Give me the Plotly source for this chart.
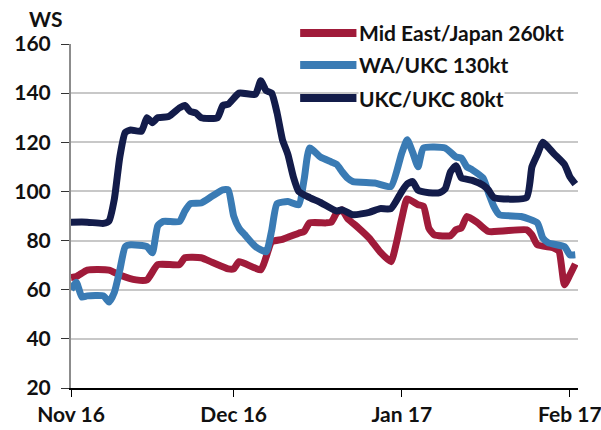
"""
Tanker spot rates (WS) - three routes, Nov 2016 to Feb 2017.
"""

import plotly.graph_objects as go

# ---------------------------------------------------------------------------
# Data
# ---------------------------------------------------------------------------

MEJ_DATES = [
    "2016-11-01", "2016-11-02", "2016-11-04", "2016-11-08", "2016-11-10",
    "2016-11-13", "2016-11-15", "2016-11-17", "2016-11-21", "2016-11-22",
    "2016-11-25", "2016-11-27", "2016-11-30", "2016-12-01", "2016-12-02",
    "2016-12-06", "2016-12-07", "2016-12-08", "2016-12-10", "2016-12-13",
    "2016-12-14", "2016-12-15", "2016-12-18", "2016-12-19", "2016-12-20",
    "2016-12-21", "2016-12-22", "2016-12-24", "2016-12-26", "2016-12-28",
    "2016-12-30", "2016-12-31", "2017-01-01", "2017-01-02", "2017-01-04",
    "2017-01-05", "2017-01-06", "2017-01-07", "2017-01-10", "2017-01-11",
    "2017-01-12", "2017-01-13", "2017-01-15", "2017-01-17", "2017-01-24",
    "2017-01-25", "2017-01-26", "2017-01-29", "2017-01-30", "2017-01-31",
    "2017-02-01", "2017-02-02",
]
MEJ_VALUES = [
    65, 65.4, 68, 68, 66,
    64, 64, 70.2, 70.2, 73,
    73, 71.2, 68.5, 68.5, 71.4,
    68.1, 73.4, 79.5, 80.5, 83,
    83.7, 87.2, 87.2, 87.5, 91.3,
    92.5, 89, 85.2, 81, 75.4,
    71.4, 79, 89, 97, 94.6,
    94, 85, 82.3, 82, 84.4,
    85.2, 89.8, 87.2, 83.7, 84.4,
    82.3, 78.3, 77, 75.6, 62,
    66, 70.5,
]

WA_DATES = [
    "2016-11-01", "2016-11-02", "2016-11-03", "2016-11-04", "2016-11-07",
    "2016-11-08", "2016-11-09", "2016-11-10", "2016-11-11", "2016-11-12",
    "2016-11-15", "2016-11-16", "2016-11-17", "2016-11-18", "2016-11-21",
    "2016-11-22", "2016-11-23", "2016-11-25", "2016-11-27", "2016-11-29",
    "2016-11-30", "2016-12-01", "2016-12-02", "2016-12-03", "2016-12-05",
    "2016-12-07", "2016-12-08", "2016-12-09", "2016-12-11", "2016-12-13",
    "2016-12-14", "2016-12-15", "2016-12-17", "2016-12-19", "2016-12-20",
    "2016-12-21", "2016-12-22", "2016-12-23", "2016-12-27", "2016-12-30",
    "2017-01-01", "2017-01-02", "2017-01-03", "2017-01-04", "2017-01-05",
    "2017-01-09", "2017-01-11", "2017-01-12", "2017-01-13", "2017-01-14",
    "2017-01-16", "2017-01-17", "2017-01-18", "2017-01-19", "2017-01-23",
    "2017-01-26", "2017-01-27", "2017-01-28", "2017-01-31", "2017-02-01",
    "2017-02-02",
]
WA_VALUES = [
    60, 63, 57, 57.5, 57.5,
    55, 59, 68, 77.5, 78.3,
    77.6, 75, 86, 87.8, 87.8,
    92, 95, 95.3, 98, 100.6,
    100.6, 90, 85, 82.5, 77.6,
    75.4, 84, 95, 95.9, 94.6,
    105, 117.7, 114, 112, 111,
    108, 105.4, 104, 103.4, 102,
    115.6, 121, 116, 110, 117.7,
    117.7, 114, 113.6, 110, 108.8,
    105.4, 99.4, 93.8, 90.5, 89.8,
    87.2, 81.1, 79.1, 77.5, 74.2,
    74.2,
]

UKC_DATES = [
    "2016-11-01", "2016-11-04", "2016-11-07", "2016-11-08", "2016-11-09",
    "2016-11-10", "2016-11-11", "2016-11-12", "2016-11-14", "2016-11-15",
    "2016-11-16", "2016-11-17", "2016-11-19", "2016-11-21", "2016-11-22",
    "2016-11-23", "2016-11-24", "2016-11-25", "2016-11-28", "2016-11-29",
    "2016-11-30", "2016-12-02", "2016-12-05", "2016-12-06", "2016-12-07",
    "2016-12-08", "2016-12-09", "2016-12-10", "2016-12-11", "2016-12-12",
    "2016-12-13", "2016-12-15", "2016-12-17", "2016-12-20", "2016-12-21",
    "2016-12-23", "2016-12-26", "2016-12-28", "2016-12-30", "2017-01-01",
    "2017-01-02", "2017-01-03", "2017-01-04", "2017-01-06", "2017-01-08",
    "2017-01-09", "2017-01-10", "2017-01-11", "2017-01-12", "2017-01-14",
    "2017-01-16", "2017-01-17", "2017-01-18", "2017-01-24", "2017-01-25",
    "2017-01-26", "2017-01-27", "2017-01-28", "2017-01-29", "2017-01-31",
    "2017-02-01", "2017-02-02",
]
UKC_VALUES = [
    87.5, 87.5, 87, 88, 97,
    114, 124, 125, 124.5, 130,
    128, 130, 130.5, 134, 135,
    132.5, 132, 130, 130, 135,
    135.5, 140, 139.5, 145, 141,
    140, 132, 121, 115, 106,
    100, 97.5, 95.5, 92, 92.5,
    90.5, 91.5, 93, 93, 100,
    103, 104, 100.5, 99.5, 99.5,
    101, 108, 110.5, 105.5, 104.5,
    102.5, 100.5, 97.5, 97.5, 110,
    115, 120, 118, 115.5, 111,
    106, 103,
]

SERIES = [
    ("Mid East/Japan 260kt", MEJ_DATES, MEJ_VALUES, "#A01B3A"),
    ("WA/UKC 130kt", WA_DATES, WA_VALUES, "#3A7BB4"),
    ("UKC/UKC 80kt", UKC_DATES, UKC_VALUES, "#131C4A"),
]

FONT = "Lato"
FONT_SIZE = 21
TEXT_COLOR = "#111111"

fig = go.Figure()

for name, dates, values, color in SERIES:
    fig.add_trace(
        go.Scatter(
            x=dates,
            y=values,
            name=name,
            mode="lines",
            line=dict(color=color, width=7, shape="spline", smoothing=0.5),
            showlegend=False,
        )
    )

# Hand-drawn legend so the key lines can be long and thick like the original
legend_rows = [1.032, 0.939, 0.843]
for (name, _, _, color), ypos in zip(SERIES, legend_rows):
    fig.add_shape(
        type="line", xref="paper", yref="paper",
        x0=0.452, x1=0.563, y0=ypos, y1=ypos,
        line=dict(color=color, width=8),
    )
    fig.add_annotation(
        xref="paper", yref="paper", x=0.566, y=ypos,
        text=name, showarrow=False, xanchor="left", yanchor="middle",
        bgcolor="white", borderpad=0,
        font=dict(family=FONT, size=FONT_SIZE, color=TEXT_COLOR, weight="bold"),
    )

fig.add_annotation(
    xref="paper", yref="paper", x=-0.087, y=1.0,
    yshift=26,
    text="WS", showarrow=False, xanchor="left", yanchor="middle",
    font=dict(family=FONT, size=FONT_SIZE, color=TEXT_COLOR, weight="bold"),
)

fig.update_layout(
    width=601,
    height=430,
    margin=dict(l=71, r=23, t=44, b=42, autoexpand=False),
    paper_bgcolor="white",
    plot_bgcolor="white",
    font=dict(family=FONT, size=FONT_SIZE, color=TEXT_COLOR, weight="bold"),
)

fig.update_xaxes(
    type="date",
    range=["2016-11-01", "2017-02-02 12:00"],
    tick0="2016-11-01",
    dtick="M1",
    tickformat="%b %y",
    ticks="outside",
    ticklen=7,
    tickcolor="black",
    ticklabeloverflow="allow",
    automargin=False,
    showgrid=False,
    showline=True,
    linecolor="black",
    linewidth=1.5,
    zeroline=False,
)

fig.update_yaxes(
    range=[20, 160],
    tick0=20,
    dtick=20,
    ticks="outside",
    ticklen=8,
    tickcolor="#333333",
    ticklabelstandoff=6,
    automargin=False,
    showgrid=True,
    gridcolor="#C8C8C8",
    gridwidth=1.5,
    showline=True,
    linecolor="#8C8C8C",
    linewidth=2,
    zeroline=False,
)

# The page's default body margin would push the figure 8px off the window
fig.write_html(
    "out.html",
    config={"displayModeBar": False},
    post_script="document.body.style.margin='0';document.body.style.overflow='hidden';",
)
